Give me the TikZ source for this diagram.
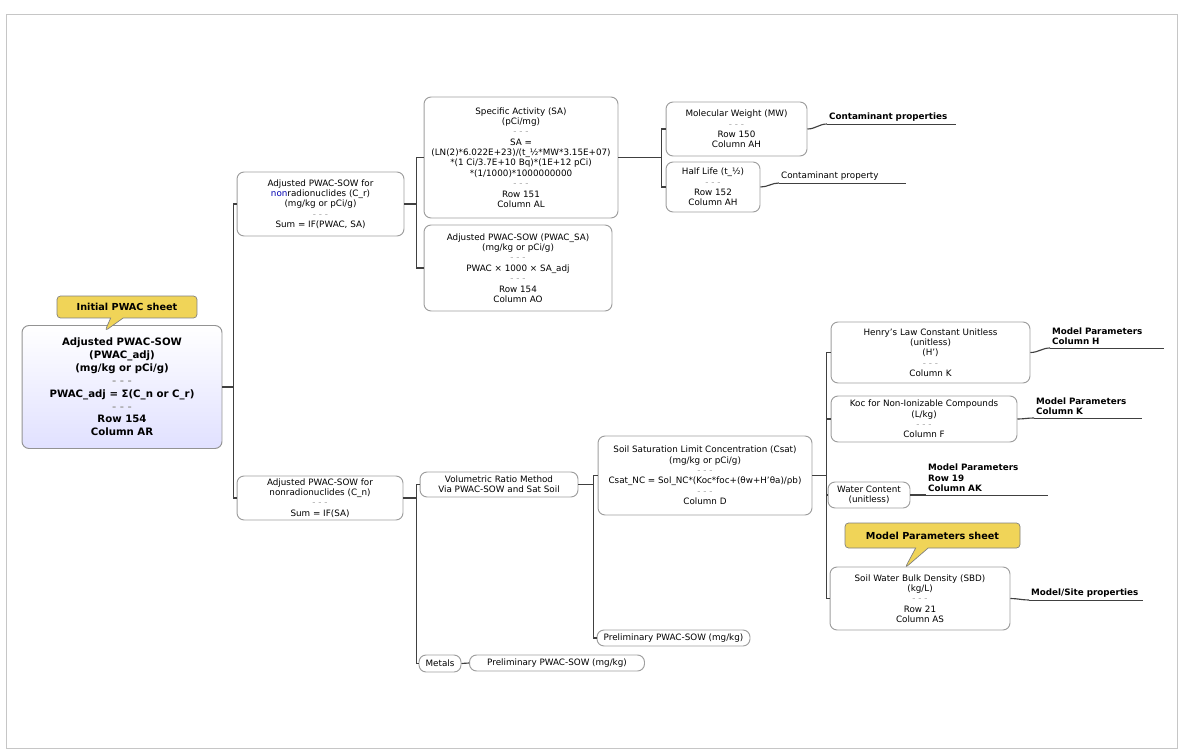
\documentclass[tikz,border=0pt]{standalone}
\usepackage{fontspec}
\setmainfont{DejaVu Sans}
\usetikzlibrary{shapes.callouts}
\definecolor{sheetyellow}{HTML}{F0D458}

\begin{document}
\begin{tikzpicture}[
  x=0.02cm, y=-0.02cm,
  font=\fontsize{5}{5.9}\selectfont,
  box/.style={draw=gray!75, rounded corners=4pt, fill=white, line width=0.55pt, align=center, inner sep=1pt},
  mainbox/.style={box, draw=gray!85, top color=white, bottom color=blue!12, font=\fontsize{5.8}{7.3}\selectfont\bfseries},
  sheet/.style={rectangle callout, draw=black!50, fill=sheetyellow, rounded corners=2pt, inner sep=1pt, font=\fontsize{5.5}{7}\selectfont\bfseries},
  tag/.style={anchor=south west, inner xsep=1pt, inner ysep=1.5pt, align=left, font=\fontsize{5}{6}\selectfont\bfseries},
  line/.style={-, draw=black!75, line width=0.65pt}]

  \useasboundingbox (0,0) rectangle (1182,756);
  \draw[gray!45] (6,14) rectangle (1177,748);

  % Root of the map and its sheet marker
  \node[mainbox, minimum width=4cm, minimum height=2.46cm] (main) at (122,387)
    {Adjusted PWAC-SOW \\ (PWAC\_adj) \\ (mg/kg or pCi/g) \\ {\color{gray!70}- - -} \\
     PWAC\_adj = Σ(C\_n or C\_r) \\ {\color{gray!70}- - -} \\ Row 154 \\ Column AR};
  \node[sheet, minimum width=2.8cm, minimum height=0.44cm, callout absolute pointer={(105,331)}] (sheet1) at (127,307) {Initial PWAC sheet};

  % First level
  \node[box, minimum width=3.34cm, minimum height=1.28cm] (radnode) at (320.5,204)
    {Adjusted PWAC-SOW for \\ {\color{blue!70!black}non}radionuclides (C\_r) \\ (mg/kg or pCi/g) \\ {\color{gray!70}- - -} \\ Sum = IF(PWAC, SA)};
  \node[box, minimum width=3.32cm, minimum height=0.88cm] (nonrad) at (320,498)
    {Adjusted PWAC-SOW for \\ nonradionuclides (C\_n) \\ {\color{gray!70}- - -} \\ Sum = IF(SA)};

  % Radionuclide branch
  \node[box, minimum width=3.88cm, minimum height=2.42cm] (actv) at (521,157.5)
    {Specific Activity (SA) \\ (pCi/mg) \\ {\color{gray!70}- - -} \\ SA = \\
     (LN(2)*6.022E+23)/(t\_½*MW*3.15E+07) \\ *(1 Ci/3.7E+10 Bq)*(1E+12 pCi) \\
     *(1/1000)*1000000000 \\ {\color{gray!70}- - -} \\ Row 151 \\ Column AL};
  \node[box, minimum width=3.76cm, minimum height=1.72cm] (pwacsa) at (518,268)
    {Adjusted PWAC-SOW (PWAC\_SA) \\ (mg/kg or pCi/g) \\ {\color{gray!70}- - -} \\
     PWAC × 1000 × SA\_adj \\ {\color{gray!70}- - -} \\ Row 154 \\ Column AO};
  \node[box, minimum width=2.82cm, minimum height=1.08cm] (molwt) at (736.5,129)
    {Molecular Weight (MW) \\ {\color{gray!70}- - -} \\ Row 150 \\ Column AH};
  \node[box, minimum width=1.88cm, minimum height=1cm] (halflife) at (713,187)
    {Half Life (t\_½) \\ {\color{gray!70}- - -} \\ Row 152 \\ Column AH};
  \node[tag, text width=2.5cm] (props1) at (827,124) {Contaminant properties};
  \node[tag, text width=2.46cm, font=\fontsize{5}{6}\selectfont] (props2) at (779,183) {Contaminant property};

  % Nonradionuclide branch
  \node[box, minimum width=3.16cm, minimum height=0.5cm] (volratio) at (499,484.5)
    {Volumetric Ratio Method \\ Via PWAC-SOW and Sat Soil};
  \node[box, minimum width=0.84cm, minimum height=0.34cm] (metals) at (440,663.5) {Metals};
  \node[box, minimum width=3.5cm, minimum height=0.32cm] (prelim1) at (557,663) {Preliminary PWAC-SOW (mg/kg)};
  \node[box, minimum width=4.28cm, minimum height=1.58cm] (csat) at (705,475.5)
    {Soil Saturation Limit Concentration (Csat) \\ (mg/kg or pCi/g) \\ {\color{gray!70}- - -} \\
     Csat\_NC = Sol\_NC*(Koc*foc+(θw+H'θa)/ρb) \\ {\color{gray!70}- - -} \\ Column D};
  \node[box, minimum width=3.06cm, minimum height=0.32cm] (prelim2) at (673.5,638) {Preliminary PWAC-SOW (mg/kg)};

  % Soil saturation parameters
  \node[box, minimum width=3.98cm, minimum height=1.22cm] (henry) at (930.5,352.5)
    {Henry's Law Constant Unitless \\ (unitless) \\ (H') \\ {\color{gray!70}- - -} \\ Column K};
  \node[box, minimum width=3.72cm, minimum height=0.92cm] (koc) at (924,419)
    {Koc for Non-Ionizable Compounds \\ (L/kg) \\ {\color{gray!70}- - -} \\ Column F};
  \node[box, minimum width=1.64cm, minimum height=0.52cm] (water) at (869,495)
    {Water Content \\ (unitless)};
  \node[sheet, minimum width=3.5cm, minimum height=0.5cm, callout absolute pointer={(905,568)}] (sheet2) at (932.5,535.5) {Model Parameters sheet};
  \node[box, minimum width=3.6cm, minimum height=1.26cm] (density) at (920,598.5)
    {Soil Water Bulk Density (SBD) \\ (kg/L) \\ {\color{gray!70}- - -} \\ Row 21 \\ Column AS};
  \node[tag, text width=2.2cm] (param1) at (1050,348) {Model Parameters \\ Column H};
  \node[tag, text width=2.08cm] (param2) at (1034,418) {Model Parameters \\ Column K};
  \node[tag, text width=2.36cm] (param3) at (926,495) {Model Parameters \\ Row 19 \\ Column AK};
  \node[tag, text width=2.2cm] (param4) at (1029,600) {Model/Site properties};

  % Connectors
  \draw[line] (main.east) -- ++(11,0) coordinate (s1) |- (radnode.west);
  \draw[line] (s1) |- (nonrad.west);
  \draw[line] (radnode.east) -- ++(12,0) coordinate (s2) |- (actv.west);
  \draw[line] (s2) |- (pwacsa.west);
  \draw[line] (actv.east) -- ++(43,0) coordinate (s3) |- (molwt.west);
  \draw[line] (s3) |- (halflife.west);
  \draw[line] (nonrad.east) -- ++(13,0) coordinate (s4) |- (volratio.west);
  \draw[line] (s4) |- (metals.west);
  \draw[line] (metals.east) -- (prelim1.west);
  \draw[line] (volratio.east) -- ++(15,0) coordinate (s5) |- (csat.west);
  \draw[line] (s5) |- (prelim2.west);
  \draw[line] (csat.east) -- ++(14,0) coordinate (s6) |- (henry.west);
  \draw[line] (s6) |- (koc.west);
  \draw[line] (s6) |- (water.west);
  \draw[line] (s6) |- (density.west);

  % Notes, underlined
  \foreach \n in {props1,props2,param1,param2,param3,param4}
    \draw[line, line width=0.5pt] (\n.south west) -- (\n.south east);
  \draw[line] (molwt.east) to[out=0, in=180] (props1.south west);
  \draw[line] (halflife.east) to[out=0, in=180] (props2.south west);
  \draw[line] (henry.east) to[out=0, in=180] (param1.south west);
  \draw[line] (koc.east) to[out=0, in=180] (param2.south west);
  \draw[line] (water.east) to[out=0, in=180] (param3.south west);
  \draw[line] (density.east) to[out=0, in=180] (param4.south west);

\end{tikzpicture}
\end{document}
